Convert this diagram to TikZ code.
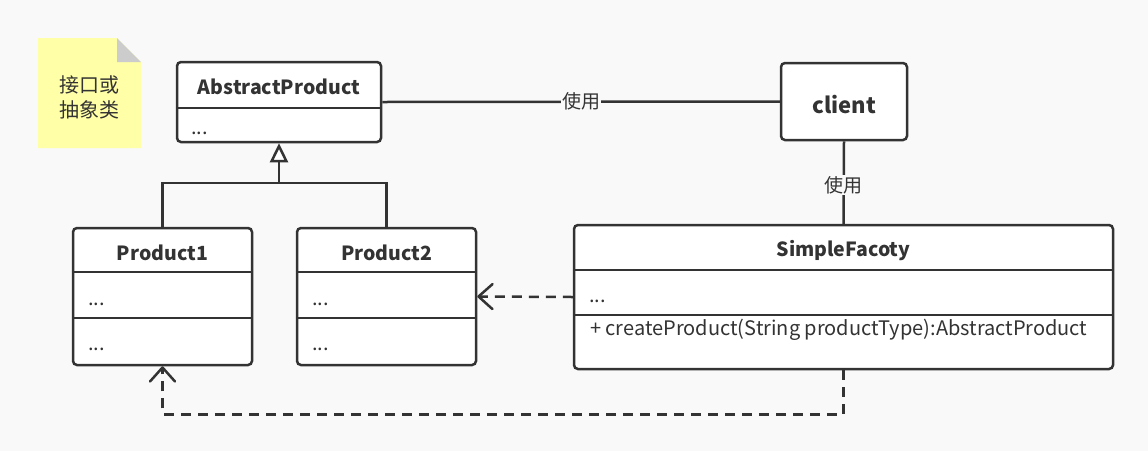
\documentclass[tikz,border=0pt]{standalone}
\usepackage{fontspec}
\setmainfont{Noto Sans CJK SC}
\usetikzlibrary{arrows.meta}
\definecolor{bg}{RGB}{249,249,249}
\definecolor{ln}{RGB}{51,51,51}
\definecolor{notey}{RGB}{255,255,168}
\definecolor{fold}{RGB}{204,204,204}
\tikzset{
  cls/.style={draw=ln, line width=2.5pt, fill=white, rounded corners=4pt, inner sep=0pt},
  divl/.style={draw=ln, line width=2pt},
  conn/.style={draw=ln, line width=2.5pt},
  dashconn/.style={draw=ln, line width=2.5pt, dash pattern=on 10pt off 7pt},
  ttl/.style={font=\bfseries\fontsize{19.5}{23}\selectfont, text=ln, inner sep=0pt, anchor=base},
  body/.style={font=\fontsize{20}{23}\selectfont, text=ln, inner sep=0pt, anchor=base west},
  lbl/.style={font=\fontsize{19}{22}\selectfont, text=ln, fill=bg, inner sep=1pt},
  opena/.style={-{Straight Barb[length=14pt,width=25pt,line width=2.5pt,round]}},
  inh/.style={-{Triangle[open,length=19pt,width=18pt,line width=2.5pt,fill=white]}}
}
\begin{document}
\begin{tikzpicture}[x=1pt,y=-1pt]
\fill[bg] (0,0) rectangle (1148,451);
\useasboundingbox (0,0) rectangle (1148,451);
% note
\fill[notey] (38,38) -- (117,38) -- (141,62) -- (141,148) -- (38,148) -- cycle;
\fill[fold] (117,38) -- (141,62) -- (117,62) -- cycle;
\node[font=\fontsize{20}{25}\selectfont, text=ln, align=center, inner sep=0pt] (notet) at (89.5,97.5) {接口或\\抽象类};
% AbstractProduct
\node[cls, minimum width=204pt, minimum height=80pt] (ap) at (279,102) {};
\draw[divl] (ap.west |- 0,108) -- (ap.east |- 0,108);
\node[ttl] (apt) at (279,94) {AbstractProduct};
\node[body] (apb) at (191,134) {...};
% client
\node[cls, minimum width=126pt, minimum height=77pt] (client) at (844,101.5) {};
\node[font=\bfseries\fontsize{22}{26}\selectfont, text=ln, inner sep=0pt, anchor=base] (clientt) at (844,113) {client};
% Product1
\node[cls, minimum width=179pt, minimum height=137pt] (p1) at (162.5,296.5) {};
\draw[divl] (p1.west |- 0,272) -- (p1.east |- 0,272);
\draw[divl] (p1.west |- 0,318) -- (p1.east |- 0,318);
\node[ttl] (p1t) at (162.5,260) {Product1};
\node[body] (p1a) at (88,305) {...};
\node[body] (p1b) at (88,350) {...};
% Product2
\node[cls, minimum width=179pt, minimum height=137pt] (p2) at (386.5,296.5) {};
\draw[divl] (p2.west |- 0,272) -- (p2.east |- 0,272);
\draw[divl] (p2.west |- 0,318) -- (p2.east |- 0,318);
\node[ttl] (p2t) at (386.5,260) {Product2};
\node[body] (p2a) at (312,305) {...};
\node[body] (p2b) at (312,350) {...};
% SimpleFacoty
\node[cls, minimum width=539pt, minimum height=144pt] (sf) at (843.5,297) {};
\draw[divl] (sf.west |- 0,270) -- (sf.east |- 0,270);
\draw[divl] (sf.west |- 0,315) -- (sf.east |- 0,315);
\node[ttl] (sft) at (843.5,256) {SimpleFacoty};
\node[body] (sfa) at (589,302) {...};
\node[body] (sfb) at (590,335) {+ createProduct(String productType):AbstractProduct};
% connectors
\draw[conn] (ap.east) -- node[lbl] (u1) {使用} (client.west);
\draw[conn] (client.south) -- node[lbl, pos=0.53] (u2) {使用} (sf.north);
\coordinate (jn) at (279,183);
\draw[conn] (p1.north) |- (jn);
\draw[conn] (p2.north) |- (jn);
\draw[conn, inh] (jn) -- (ap.south);
\draw[dashconn, opena] (sf.west) -- (p2.east);
\draw[dashconn, opena] (sf.south) -- ++(0,44) -| (p1.south);
\end{tikzpicture}
\end{document}
